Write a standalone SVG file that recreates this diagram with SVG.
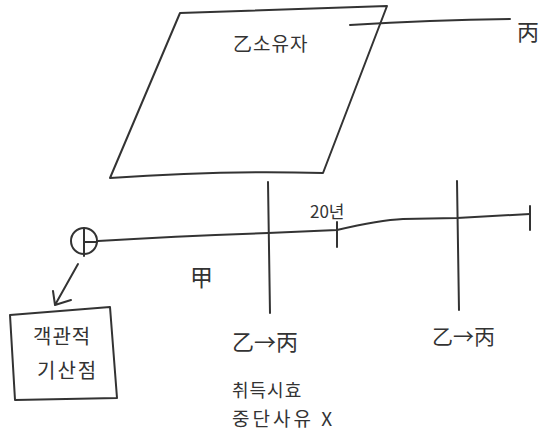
<svg xmlns="http://www.w3.org/2000/svg" width="551" height="443" viewBox="0 0 551 443">
<style>
.s{fill:none;stroke:#333;stroke-width:2;stroke-linecap:round;stroke-linejoin:round}
.t{font-family:"Noto Sans CJK KR","Noto Sans CJK SC",sans-serif;fill:#333}
</style>
<rect width="551" height="443" fill="#fff"/>
<g id="owner-plot">
<path class="s" d="M180,13 Q280,10 387,6 L323,173 Q220,170 110,178 Z"/>
<text class="t" x="233" y="51" font-size="19" letter-spacing="1">乙소유자</text>
</g>
<g id="byeong">
<text class="t" x="517" y="40" font-size="22">丙</text>
</g>
<g id="start">
<circle class="s" cx="84" cy="241" r="13"/>
<path class="s" d="M84,228 V256 M84,242 H97"/>
</g>
<g id="gap">
<text class="t" x="190" y="286" font-size="23">甲</text>
</g>
<g id="box">
<path class="s" d="M10,315 L110,307 L117,398 L15,400 Z"/>
<text class="t" x="33" y="344" font-size="20" letter-spacing="1">객관적</text>
<text class="t" x="37" y="378" font-size="20" letter-spacing="2">기산점</text>
</g>
<g id="year20">
<text class="t" x="310" y="218" font-size="17">20년</text>
</g>
<g id="transfer1">
<text class="t" x="232" y="350" font-size="22">乙→丙</text>
<text class="t" x="232" y="397" font-size="18" letter-spacing="1">취득시효</text>
<text class="t" x="232" y="426" font-size="19" letter-spacing="3">중단사유 X</text>
</g>
<g id="transfer2">
<text class="t" x="432" y="344" font-size="21">乙→丙</text>
</g>
<g id="connectors">
<path class="s" d="M350,25 Q430,20 510,19"/>
<path class="s" d="M98,241 Q180,236 268,233 L337,230 Q380,220 403,219 L457,218 L530,214"/>
<path class="s" d="M530,206 V230"/>
<path class="s" d="M337,222 V247"/>
<path class="s" d="M268,182 L270,313"/>
<path class="s" d="M457,181 L459,310"/>
<path class="s" d="M78,264 L55,305 M53,291 L55,305 L71,300"/>
</g>
</svg>
